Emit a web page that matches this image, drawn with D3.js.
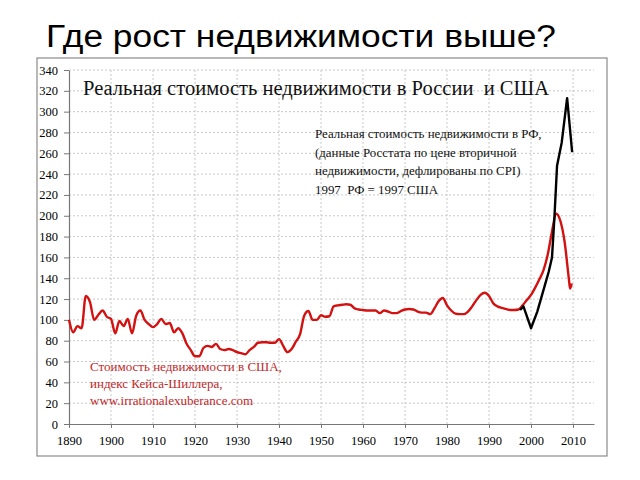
<!DOCTYPE html>
<html><head><meta charset="utf-8">
<script src="https://cdn.jsdelivr.net/npm/d3@7"></script>
<style>body{margin:0;background:#fff}svg{display:block}</style>
</head><body>
<svg id="c" width="640" height="480"></svg>
<script>
const usYears = [1890,1891,1892,1893,1894,1895,1896,1897,1898,1899,1900,1901,1902,1903,1904,1905,1906,1907,1908,1909,
1910,1911,1912,1913,1914,1915,1916,1917,1918,1919,1920,1921,1922,1923,1924,1925,1926,1927,1928,1929,
1930,1931,1932,1933,1934,1935,1936,1937,1938,1939,1940,1941,1942,1943,1944,1945,1946,1947,1948,1949,
1950,1951,1952,1953,1954,1955,1956,1957,1958,1959,1960,1961,1962,1963,1964,1965,1966,1967,1968,1969,
1970,1971,1972,1973,1974,1975,1976,1977,1978,1979,1980,1981,1982,1983,1984,1985,1986,1987,1988,1989,
1990,1991,1992,1993,1994,1995,1996,1997,1998,1999,2000,2001,2002,2003,2004,2005,2006,2007,2008,2009,2009.3,2009.7];
const usValues = [100,88,94,92,123,117,100,105,109,103,101,87,99,94,101,87,104,109,100,96,
93,96,101,96,97,88,92,87,77,71,65,65,73,75,74,77,72,71,72,71,
69,68,67,71,74,78,78.5,78.5,78,78,81.5,75,69,72,79,86,104,108.5,100,100,
104.5,103,103.5,113,114,114.5,115,114.5,111,110,109.5,109,109,109,106.5,109,108,106.5,106.5,108.5,
110,110.5,110,108,107,107,105.5,111,118,121,114,109,106,105.5,105.5,108,113,119,124,126,
123,116,113,111.5,110.5,109.5,109.5,110,114,119,124,131,139,148,163,185,202,195,175,140,130,135];
const ruYears = [1997.4,1998.2,2000,2001.5,2003,2004.2,2005,2005.6,2006.2,2007.3,2008.6,2009.8];
const ruValues = [109.5,113,92,108,129,146,160,200,248,270,313,261];
const xTicks = [1890,1900,1910,1920,1930,1940,1950,1960,1970,1980,1990,2000,2010];
const yTicks = d3.range(0, 341, 20);
const pageTitle = "Где рост недвижимости выше?";
const chartTitle = "Реальная стоимость недвижимости в России  и США";
const ruNote = ["Реальная стоимость недвижимости в РФ,", "(данные Росстата по цене вторичной", "недвижимости, дефлированы по CPI)", "1997  РФ = 1997 США"];
const usNote = ["Стоимость недвижимости в США,", "индекс Кейса-Шиллера,", "www.irrationalexuberance.com"];

const svg = d3.select("#c");
const serif = "'Liberation Serif','Times New Roman',serif";
svg.append("rect").attr("width",640).attr("height",480).attr("fill","#fff");
svg.append("text").attr("x",46).attr("y",47).attr("font-family","'Liberation Sans',Arial,sans-serif")
  .attr("font-size",31).attr("fill","#000").attr("textLength",510).attr("lengthAdjust","spacingAndGlyphs").text(pageTitle);
svg.append("rect").attr("x",37).attr("y",58).attr("width",570).attr("height",398)
  .attr("fill","#fff").attr("stroke","#8a8a8a").attr("stroke-width",1.2);

const x = d3.scaleLinear().domain([1890,2015]).range([69,594]);
const y = d3.scaleLinear().domain([0,340]).range([424,70]);

const g = svg.append("g");
g.selectAll(".hg").data(yTicks.filter(d=>d>0)).join("line")
  .attr("x1",x(1890)).attr("x2",x(2015)).attr("y1",d=>y(d)).attr("y2",d=>y(d))
  .attr("stroke","#c8c8c8").attr("stroke-dasharray","2,2");
g.selectAll(".vg").data(xTicks.filter(d=>d>1890)).join("line")
  .attr("x1",d=>x(d)).attr("x2",d=>x(d)).attr("y1",y(0)).attr("y2",y(340))
  .attr("stroke","#c8c8c8").attr("stroke-dasharray","2,2");

const xa = svg.append("g").attr("transform",`translate(0,${y(0)})`)
  .call(d3.axisBottom(x).tickValues(xTicks).tickFormat(d3.format("d")).tickSize(4).tickSizeOuter(0));
const ya = svg.append("g").attr("transform",`translate(${x(1890)},0)`)
  .call(d3.axisLeft(y).tickValues(yTicks).tickSize(5).tickSizeOuter(0));
[xa,ya].forEach(a=>{
  a.attr("font-family",serif).attr("font-size",12);
  a.select(".domain").attr("stroke","#777").attr("stroke-width",1.2);
  a.selectAll(".tick line").attr("stroke","#777");
  a.selectAll("text").attr("font-family",serif).attr("font-size",12.5).attr("fill","#000");
});
xa.selectAll("text").attr("dy","1.1em");
ya.selectAll("text").attr("x",-11);

const line = d3.line().x(d=>x(d[0])).y(d=>y(d[1])).curve(d3.curveMonotoneX);
svg.append("path").datum(usYears.map((t,i)=>[t,usValues[i]])).attr("d",line)
  .attr("fill","none").attr("stroke","#d41111").attr("stroke-width",2.4).attr("stroke-linejoin","round");
svg.append("path").datum(ruYears.map((t,i)=>[t,ruValues[i]])).attr("d",d3.line().x(d=>x(d[0])).y(d=>y(d[1])))
  .attr("fill","none").attr("stroke","#000").attr("stroke-width",2.4).attr("stroke-linejoin","round");

svg.append("text").attr("x",83).attr("y",95).attr("font-family",serif).attr("font-size",20)
  .attr("fill","#111").attr("textLength",466).attr("lengthAdjust","spacingAndGlyphs")
  .style("white-space","pre").text(chartTitle);
svg.append("g").selectAll("text").data(ruNote).join("text")
  .attr("x",315).attr("y",(d,i)=>138+i*18.7).attr("font-family",serif).attr("font-size",12.9)
  .attr("fill","#111").style("white-space","pre").text(d=>d);
svg.append("g").selectAll("text").data(usNote).join("text")
  .attr("x",90).attr("y",(d,i)=>371+i*17).attr("font-family",serif).attr("font-size",13)
  .attr("fill","#c0282a").text(d=>d);
</script>
</body></html>
